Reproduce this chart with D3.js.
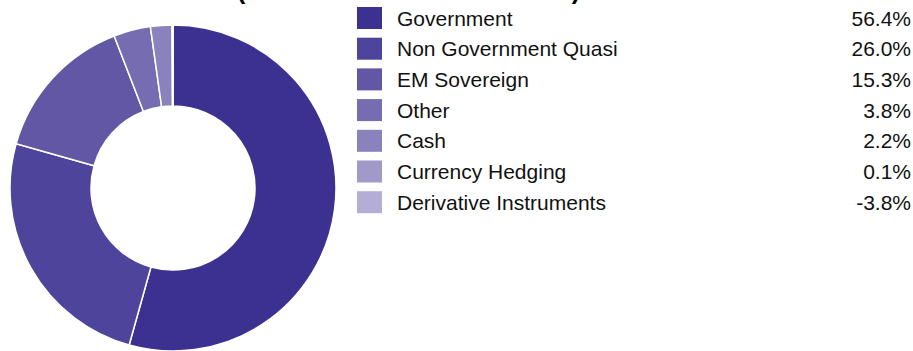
<!DOCTYPE html>
<html>
<head>
<meta charset="utf-8">
<script src="https://cdn.jsdelivr.net/npm/d3@7"></script>
<style>
  body { margin: 0; background: #fff; }
  text { font-family: "Liberation Sans", Arial, sans-serif; }
</style>
</head>
<body>
<div id="vis"></div>
<script>
var categories = ["Government", "Non Government Quasi", "EM Sovereign", "Other", "Cash", "Currency Hedging", "Derivative Instruments"];
var values = [56.4, 26.0, 15.3, 3.8, 2.2, 0.1, -3.8];
var valueLabels = ["56.4%", "26.0%", "15.3%", "3.8%", "2.2%", "0.1%", "-3.8%"];
var colors = ["#3c3190", "#4e449b", "#6157a5", "#756cb1", "#8a82bd", "#a19ac9", "#b4aed6"];

var width = 913, height = 351;

var svg = d3.select("#vis")
    .append("svg")
    .attr("width", width)
    .attr("height", height);

// title, mostly cut off at top of the frame (as in the original)
svg.append("text")
    .attr("x", 237)
    .attr("y", -1)
    .attr("font-size", 25)
    .attr("font-weight", "bold")
    .attr("textLength", 343)
    .text("(% of total net assets)");

////////// donut //////////

var data = categories.map(function (c, i) {
    return {name: c, value: values[i], label: valueLabels[i], color: colors[i]};
});

var pie = d3.pie()
    .sort(null)
    .value(function (d) { return Math.max(d.value, 0); });

var arc = d3.arc()
    .innerRadius(82)
    .outerRadius(163);

var donut = svg.append("g")
    .attr("transform", "translate(173,188)");

donut.selectAll("path")
    .data(pie(data))
    .enter()
    .append("path")
    .attr("d", arc)
    .attr("fill", function (d) { return d.data.color; })
    .attr("stroke", "#fff")
    .attr("stroke-width", 1.5);

////////// legend //////////

var y = d3.scaleBand()
    .domain(categories)
    .range([3, 3 + 30.7 * categories.length]);

var legend = svg.append("g");

var rows = legend.selectAll("g")
    .data(data)
    .enter()
    .append("g")
    .attr("transform", function (d) { return "translate(0," + y(d.name) + ")"; });

rows.append("rect")
    .attr("x", 357)
    .attr("y", 4)
    .attr("width", 25)
    .attr("height", 22)
    .attr("fill", function (d) { return d.color; });

rows.append("text")
    .attr("x", 397)
    .attr("y", 22.5)
    .attr("font-size", 21)
    .attr("fill", "#111")
    .text(function (d) { return d.name; });

rows.append("text")
    .attr("x", 911)
    .attr("y", 22.5)
    .attr("font-size", 21)
    .attr("fill", "#111")
    .attr("text-anchor", "end")
    .text(function (d) { return d.label; });
</script>
</body>
</html>
